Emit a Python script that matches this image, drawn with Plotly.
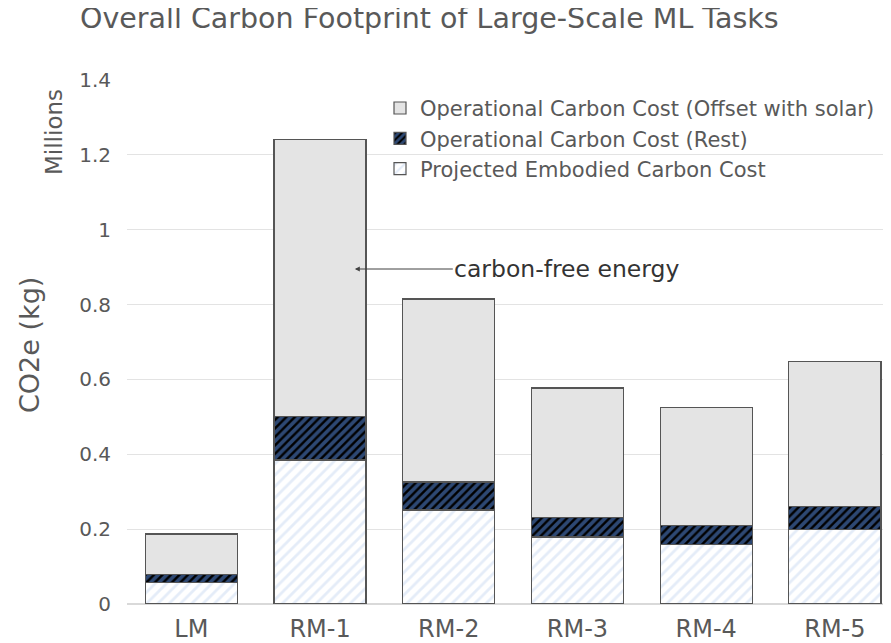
import plotly.graph_objects as go

tasks = ["LM", "RM-1", "RM-2", "RM-3", "RM-4", "RM-5"]
embodied = [0.058, 0.385, 0.251, 0.179, 0.160, 0.198]
op_rest = [0.021, 0.115, 0.075, 0.053, 0.049, 0.062]
op_offset = [0.108, 0.740, 0.489, 0.345, 0.317, 0.387]

ytick_vals = [0, 0.2, 0.4, 0.6, 0.8, 1.0, 1.2, 1.4]
ytick_text = ["0", "0.2", "0.4", "0.6", "0.8", "1", "1.2", "1.4"]

FONT = "DejaVu Sans"
GREY = "#595959"
OUTLINE = "#555555"

# page has an 8px body margin, so the figure is a bit smaller than the window
W, H = 883, 635
L, T, B = 119, 72, 39
PW, PH = W - L, H - T - B

fig = go.Figure()

fig.add_trace(go.Bar(
    x=tasks, y=embodied,
    name="Projected Embodied Carbon Cost",
    marker=dict(
        color="white",
        line=dict(color=OUTLINE, width=1.2),
        pattern=dict(shape="/", bgcolor="white", fgcolor="#c9d9f2",
                     size=8, solidity=0.35),
    ),
))

fig.add_trace(go.Bar(
    x=tasks, y=op_rest,
    name="Operational Carbon Cost (Rest)",
    marker=dict(
        color="black",
        line=dict(color=OUTLINE, width=1.2),
        pattern=dict(shape="/", bgcolor="black", fgcolor="#5a8fe6",
                     size=6, solidity=0.6),
    ),
))

fig.add_trace(go.Bar(
    x=tasks, y=op_offset,
    name="Operational Carbon Cost (Offset with solar)",
    marker=dict(color="#e4e4e4", line=dict(color=OUTLINE, width=1.2)),
))

fig.add_annotation(
    x=1.27, y=0.895, xref="x", yref="y",
    text="carbon-free energy",
    showarrow=True, arrowhead=2, arrowsize=1, arrowwidth=1,
    arrowcolor="#404040", ax=212, ay=0,
    font=dict(family=FONT, size=23.5, color="#333333"),
)

fig.add_annotation(
    x=(21 - L) / PW, y=(T + PH - 337) / PH, xref="paper", yref="paper",
    xanchor="center", yanchor="middle",
    text="CO2e (kg)", textangle=-90, showarrow=False,
    font=dict(family=FONT, size=27, color=GREY),
)

fig.add_annotation(
    x=(46 - L) / PW, y=(T + PH - 124) / PH, xref="paper", yref="paper",
    xanchor="center", yanchor="middle",
    text="Millions", textangle=-90, showarrow=False,
    font=dict(family=FONT, size=23, color=GREY),
)

fig.update_layout(
    width=W, height=H,
    barmode="stack",
    bargap=0.285,
    title=dict(
        text="Overall Carbon Footprint of Large-Scale ML Tasks",
        x=72 / W, xanchor="left", y=1, yanchor="top",
        pad=dict(t=0),
        font=dict(family=FONT, size=28.5, color=GREY),
    ),
    xaxis=dict(
        range=[-0.5, 5.436],
        showgrid=False, showline=False, zeroline=False,
        ticklabelstandoff=8,
        tickfont=dict(family=FONT, size=24, color=GREY),
    ),
    yaxis=dict(
        range=[0, 1.4],
        tickvals=ytick_vals, ticktext=ytick_text,
        showgrid=True, gridcolor="#e3e3e3", gridwidth=1,
        zeroline=True, zerolinecolor="#d9d9d9",
        showline=False,
        ticklabelstandoff=15,
        tickfont=dict(family=FONT, size=20, color=GREY),
    ),
    legend=dict(
        x=(372 - L) / PW, y=0.985,
        xanchor="left", yanchor="top",
        traceorder="reversed",
        bgcolor="rgba(0,0,0,0)",
        font=dict(family=FONT, size=21, color=GREY),
        itemwidth=30,
    ),
    plot_bgcolor="white",
    paper_bgcolor="white",
    margin=dict(l=L, r=0, t=T, b=B),
)

fig.write_html("out.html")
